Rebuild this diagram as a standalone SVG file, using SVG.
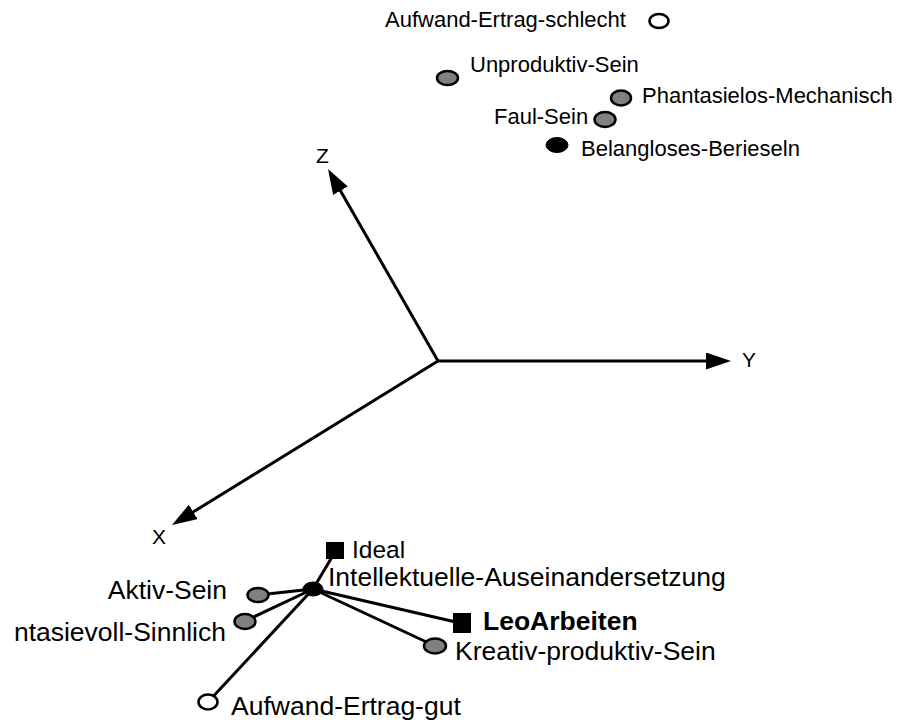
<svg xmlns="http://www.w3.org/2000/svg" width="906" height="723" viewBox="0 0 906 723">
  <style>
    .lbl { font-family: "Liberation Sans", Arial, sans-serif; fill: #000; }
    .top { font-size: 22px; }
    .bot { font-size: 26.5px; }
    .ax { font-size: 21px; }
    .bold { font-weight: bold; }
    .axis { stroke: #000; stroke-width: 3; fill: none; marker-end: url(#arrow); }
    .conn { stroke: #000; stroke-width: 3; fill: none; }
    .grey { fill: #808080; stroke: #000; stroke-width: 2.5; }
    .white { fill: #fff; stroke: #000; stroke-width: 2.5; }
    .black { fill: #000; stroke: #000; stroke-width: 1; }
    .sq { fill: #000; }
  </style>
  <defs>
    <marker id="arrow" markerUnits="userSpaceOnUse" markerWidth="26" markerHeight="18" refX="15" refY="8.5" orient="auto" viewBox="0 0 26 18">
      <path d="M0,0 L25,8.5 L0,17 z" fill="#000"/>
    </marker>
  </defs>

  <rect width="906" height="723" fill="#fff"/>

  <g id="axes">
    <line class="axis" x1="438" y1="361" x2="721" y2="361"/>
    <line class="axis" x1="438" y1="361" x2="333" y2="177.7"/>
    <line class="axis" x1="438" y1="361" x2="180.5" y2="519.8"/>
    <text class="lbl ax" x="742" y="367">Y</text>
    <text class="lbl ax" x="316" y="163">Z</text>
    <text class="lbl ax" x="152" y="544">X</text>
  </g>

  <g id="connectors">
    <line class="conn" x1="313" y1="589" x2="335" y2="552"/>
    <line class="conn" x1="313" y1="589" x2="258" y2="595"/>
    <line class="conn" x1="313" y1="589" x2="245" y2="621"/>
    <line class="conn" x1="313" y1="589" x2="460" y2="623"/>
    <line class="conn" x1="313" y1="589" x2="435" y2="646"/>
    <line class="conn" x1="313" y1="589" x2="208" y2="702"/>
  </g>

  <g id="aufwand-ertrag-schlecht">
    <ellipse class="white" cx="659" cy="21" rx="9.5" ry="7"/>
    <text class="lbl top" x="385" y="27">Aufwand-Ertrag-schlecht</text>
  </g>
  <g id="unproduktiv-sein">
    <ellipse class="grey" cx="447.5" cy="78" rx="10.5" ry="7"/>
    <text class="lbl top" x="470" y="72">Unproduktiv-Sein</text>
  </g>
  <g id="phantasielos-mechanisch">
    <ellipse class="grey" cx="621" cy="98" rx="10" ry="7.5"/>
    <text class="lbl top" x="642" y="103">Phantasielos-Mechanisch</text>
  </g>
  <g id="faul-sein">
    <ellipse class="grey" cx="605" cy="119.5" rx="10.5" ry="7.5"/>
    <text class="lbl top" x="494" y="123.5">Faul-Sein</text>
  </g>
  <g id="belangloses-berieseln">
    <ellipse class="black" cx="557" cy="145" rx="11" ry="7.5"/>
    <text class="lbl top" x="581" y="156">Belangloses-Berieseln</text>
  </g>

  <g id="hub">
    <ellipse class="black" cx="313" cy="589" rx="10" ry="7"/>
  </g>
  <g id="ideal">
    <rect class="sq" x="326" y="542" width="18" height="17"/>
    <text class="lbl bot" x="352" y="558" style="font-size:24.5px">Ideal</text>
  </g>
  <g id="intellektuelle-auseinandersetzung">
    <text class="lbl bot" x="328" y="586">Intellektuelle-Auseinandersetzung</text>
  </g>
  <g id="aktiv-sein">
    <ellipse class="grey" cx="258" cy="595" rx="10.5" ry="7"/>
    <text class="lbl bot" x="227" y="599" text-anchor="end">Aktiv-Sein</text>
  </g>
  <g id="phantasievoll-sinnlich">
    <ellipse class="grey" cx="245" cy="621.5" rx="10.5" ry="7.5"/>
    <text class="lbl bot" x="226" y="641" text-anchor="end">ntasievoll-Sinnlich</text>
  </g>
  <g id="leoarbeiten">
    <rect class="sq" x="453" y="613" width="18" height="20"/>
    <text class="lbl bot bold" x="483" y="630">LeoArbeiten</text>
  </g>
  <g id="kreativ-produktiv-sein">
    <ellipse class="grey" cx="435" cy="646" rx="11" ry="7.5"/>
    <text class="lbl bot" x="455" y="660">Kreativ-produktiv-Sein</text>
  </g>
  <g id="aufwand-ertrag-gut">
    <ellipse class="white" cx="208" cy="702" rx="9.5" ry="7.5"/>
    <text class="lbl bot" x="231" y="715">Aufwand-Ertrag-gut</text>
  </g>
</svg>
